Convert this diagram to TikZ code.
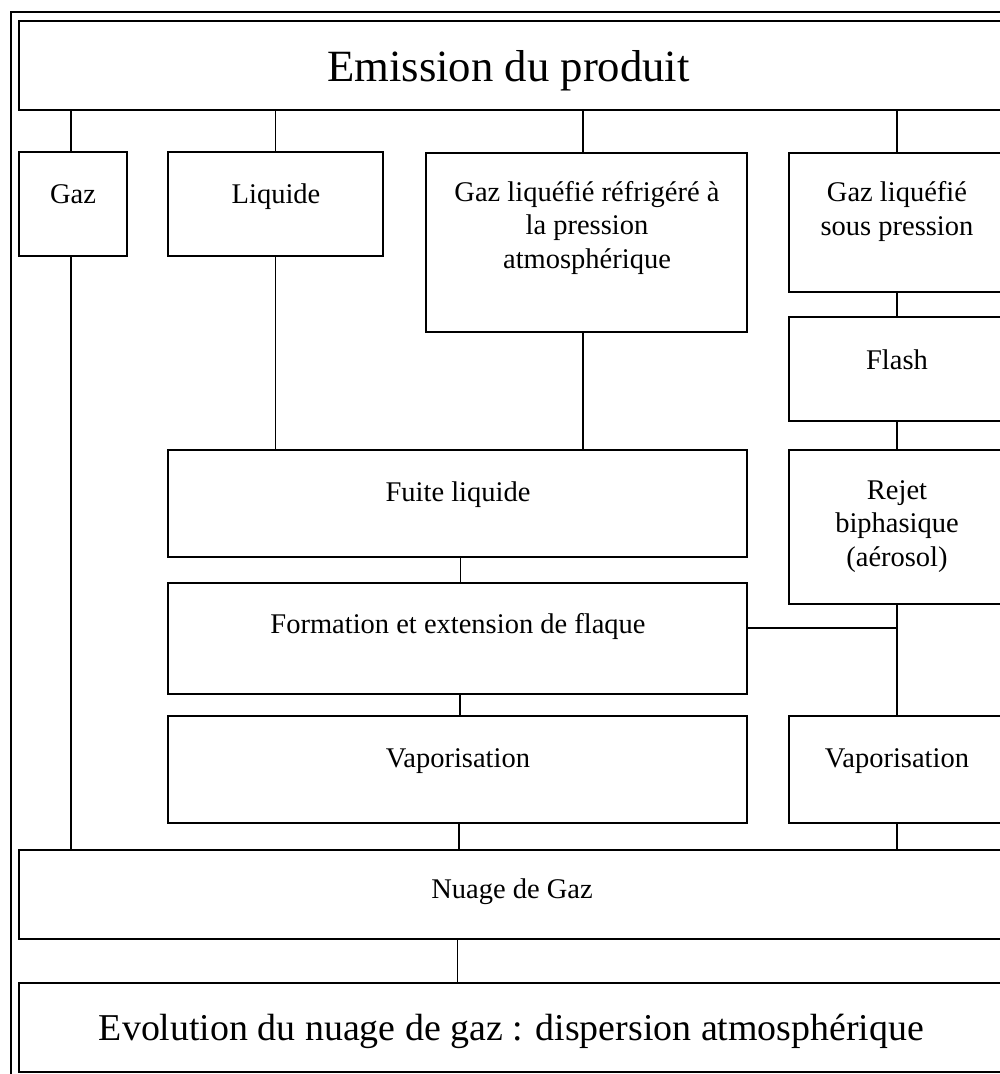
\documentclass[tikz,border=0pt]{standalone}
\usepackage{fontspec}
\setmainfont{Liberation Serif}
\tikzset{
  boite/.style={draw, line width=1.5pt, inner sep=0pt},
  lien/.style={line width=1.5pt},
  texte/.style={anchor=base, inner sep=0pt, align=center,
    font=\fontsize{28.5}{33.5}\selectfont}
}
\begin{document}
\begin{tikzpicture}[x=1pt, y=-1pt]
      \useasboundingbox[fill=white] (0,0) rectangle (1000,1074);
      \clip (0,0) rectangle (1000,1074);
      \draw[lien] (11,12) rectangle (1010,1085);  % cadre
      % boites
      \node[boite, minimum width=984pt, minimum height=89pt] (emission) at (511,65.5) {};
      \node[boite, minimum width=108pt, minimum height=104pt] (gaz) at (73,204) {};
      \node[boite, minimum width=215pt, minimum height=104pt] (liquide) at (275.5,204) {};
      \node[boite, minimum width=321pt, minimum height=179pt] (refrig) at (586.5,242.5) {};
      \node[boite, minimum width=216pt, minimum height=139pt] (souspression) at (897,222.5) {};
      \node[boite, minimum width=216pt, minimum height=104pt] (flash) at (897,369) {};
      \node[boite, minimum width=216pt, minimum height=154pt] (rejet) at (897,527) {};
      \node[boite, minimum width=579pt, minimum height=107pt] (fuite) at (457.5,503.5) {};
      \node[boite, minimum width=579pt, minimum height=111pt] (formation) at (457.5,638.5) {};
      \node[boite, minimum width=579pt, minimum height=107pt] (vapG) at (457.5,769.5) {};
      \node[boite, minimum width=216pt, minimum height=107pt] (vapD) at (897,769.5) {};
      \node[boite, minimum width=984pt, minimum height=89pt] (nuage) at (511,894.5) {};
      \node[boite, minimum width=984pt, minimum height=89pt] (evolution) at (511,1027.5) {};
      % textes (base = derniere ligne)
      \node[texte, font=\fontsize{44.7}{50}\selectfont] (emission-t) at (508.5,81) {Emission du produit};
      \node[texte] (gaz-t) at (73,203) {Gaz};
      \node[texte] (liquide-t) at (276,203) {Liquide};
      \node[texte] (refrig-t) at (587,268) {Gaz liquéfié réfrigéré à\\la pression\\atmosphérique};
      \node[texte] (souspression-t) at (897,235) {Gaz liquéfié\\sous pression};
      \node[texte] (flash-t) at (897,369) {Flash};
      \node[texte] (rejet-t) at (897,566) {Rejet\\biphasique\\(aérosol)};
      \node[texte] (fuite-t) at (458,501) {Fuite liquide};
      \node[texte] (formation-t) at (458,633) {Formation et extension de flaque};
      \node[texte] (vapG-t) at (458,767) {Vaporisation};
      \node[texte] (vapD-t) at (897,767) {Vaporisation};
      \node[texte] (nuage-t) at (512,898) {Nuage de Gaz};
      \node[texte, font=\fontsize{37.9}{44}\selectfont] (evolution-t) at (511.5,1040)
        {Evolution du nuage de gaz : dispersion atmosphérique};
      % liens
      \draw[lien] ([xshift=-2pt]gaz.north) -- ([xshift=-2pt]gaz.north |- emission.south);
      \draw[lien] (liquide.north) -- (liquide.north |- emission.south);
      \draw[lien] ([xshift=-3.5pt]refrig.north) -- ([xshift=-3.5pt]refrig.north |- emission.south);
      \draw[lien] (souspression.north) -- (souspression.north |- emission.south);
      \draw[lien] (souspression.south) -- (flash.north);
      \draw[lien] (flash.south) -- (rejet.north);
      \draw[lien] (liquide.south) -- (liquide.south |- fuite.north);
      \draw[lien] ([xshift=-3.5pt]refrig.south) -- ([xshift=-3.5pt]refrig.south |- fuite.north);
      \draw[lien] ([xshift=3pt]fuite.south) -- ([xshift=3pt]formation.north);
      \draw[lien] ([xshift=2.5pt]formation.south) -- ([xshift=2.5pt]vapG.north);
      \draw[lien] ([yshift=10.5pt]formation.east) -- ([yshift=10.5pt]formation.east -| rejet.south);
      \draw[lien] (rejet.south) -- (vapD.north);
      \draw[lien] ([xshift=-2pt]gaz.south) -- ([xshift=-2pt]gaz.south |- nuage.north);
      \draw[lien] ([xshift=1.5pt]vapG.south) -- ([xshift=1.5pt]vapG.south |- nuage.north);
      \draw[lien] (vapD.south) -- (vapD.south |- nuage.north);
      \draw[lien] (nuage.south -| vapG.south) -- (evolution.north -| vapG.south);
\end{tikzpicture}
\end{document}
